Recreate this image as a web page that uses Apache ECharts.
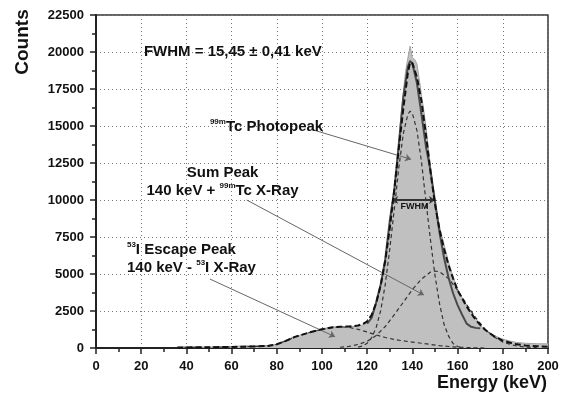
<!DOCTYPE html>
<html>
<head>
<meta charset="utf-8">
<script src="https://cdn.jsdelivr.net/npm/echarts@6/dist/echarts.min.js"></script>
<style>
  html, body { margin: 0; padding: 0; background: #fff; }
  #chart { width: 563px; height: 403px; }
</style>
</head>
<body>
<div id="chart"></div>
<script>
// measured spectrum (grey filled area)
const measEnergy = [36, 40, 45, 50, 55, 60, 64, 68, 72, 76, 80, 82, 84, 86, 88, 90, 92, 94, 96, 98,
  100, 102, 104, 106, 108, 110, 112, 114, 116, 118, 120, 122, 124, 126, 127, 128, 129, 130, 131, 132,
  133, 134, 135, 136, 137, 138, 139, 140, 141, 142, 143, 144, 145, 146, 147, 148, 149, 150, 151, 152,
  154, 156, 158, 160, 162, 164, 166, 168, 170, 172, 174, 176, 178, 180, 183, 186, 190, 195, 200];
const measCounts = [60, 70, 70, 60, 70, 90, 130, 150, 150, 170, 260, 380, 520, 650, 770, 850, 930, 1050, 1130, 1200,
  1280, 1350, 1400, 1430, 1440, 1440, 1450, 1460, 1490, 1560, 1680, 2050, 3100, 4300, 5050, 6000, 7200, 8600, 9700, 10700,
  12100, 13900, 15800, 17300, 18700, 19600, 20400, 19600, 19500, 19200, 18200, 17100, 16100, 14950, 13600, 12300, 11000, 10000, 9000, 8200,
  7000, 5800, 4800, 4000, 3400, 2900, 2450, 2000, 1550, 1250, 1050, 870, 720, 600, 470, 380, 320, 290, 280];

// total fit (thick dashed)
const fitEnergy = [36, 40, 50, 60, 70, 76, 80, 84, 88, 92, 96, 100, 104, 108, 112, 116, 118, 120, 122, 124,
  126, 128, 130, 132, 134, 136, 138, 139, 140, 142, 144, 146, 148, 150, 152, 154, 156, 158, 160, 164,
  168, 172, 176, 180, 185, 190, 195, 200];
const fitCounts = [30, 40, 50, 70, 100, 140, 250, 480, 750, 940, 1120, 1270, 1380, 1440, 1450, 1520, 1620, 1800, 2250, 3050,
  4250, 5900, 8100, 10700, 13500, 16200, 18600, 19300, 19250, 18300, 16700, 14400, 11900, 9700, 8000, 6700, 5600, 4700, 3900, 2800,
  1900, 1250, 800, 500, 280, 170, 120, 90];

// main peak line (solid)
const peakEnergy = [120, 122, 124, 126, 128, 130, 132, 134, 136, 138, 139, 140, 142, 144, 146, 148, 150, 152, 154, 156,
  158, 160, 162, 164, 166, 168, 170];
const peakCounts = [1650, 2050, 3100, 4300, 6000, 8600, 10700, 13800, 17000, 19000, 19400, 19200, 17900, 15800, 13600, 12000, 9900, 7800, 6100, 4750,
  3700, 2900, 2250, 1650, 1430, 1360, 1330];

// fit components (thin dashed)
const photoEnergy = [116, 118, 120, 122, 124, 126, 128, 130, 132, 134, 136, 138, 139, 140, 142, 144, 146, 148, 150, 152,
  154, 156, 158, 160, 162];
const photoCounts = [60, 135, 320, 700, 1400, 2550, 4300, 6700, 9400, 12200, 14500, 15800, 16000, 15850, 14700, 12600, 9900, 7300, 4900, 3000,
  1600, 800, 300, 100, 30];

const sumEnergy = [108, 112, 116, 120, 124, 128, 132, 136, 140, 144, 148, 150, 152, 156, 160, 164, 168, 172, 176, 180,
  185, 190, 195];
const sumCounts = [50, 110, 240, 450, 850, 1450, 2250, 3100, 3950, 4650, 5130, 5200, 5150, 4700, 3900, 2950, 2050, 1300, 760, 400,
  170, 60, 20];

const escEnergy = [36, 40, 50, 60, 70, 76, 80, 84, 88, 92, 96, 100, 104, 108, 112, 116, 120, 124, 128, 132,
  136, 140, 144, 148, 152, 156, 160, 166, 172];
const escCounts = [30, 40, 50, 70, 100, 140, 250, 480, 740, 930, 1100, 1250, 1360, 1430, 1390, 1260, 1080, 880, 710, 580,
  480, 400, 320, 240, 160, 100, 55, 20, 0];

// annotation arrows: [fromE, fromC, toE, toC]
const arrowPhoto = [96.2, 14730, 139.4, 12750];
const arrowSum = [66.7, 10000, 145.1, 3580];
const arrowEsc = [50.4, 4660, 105.8, 760];
const fwhmBar = [131, 150, 10000];

const pairs = (xs, ys) => xs.map((x, i) => [x, ys[i]]);

const FONT = "'Liberation Sans', Arial, sans-serif";
const dashedThin = { color: "#333", width: 1.2, type: [4, 3] };

const arrowItem = a => [
  { coord: [a[0], a[1]], symbol: "none" },
  { coord: [a[2], a[3]], symbol: "arrow", symbolSize: 6 }
];

const chart = echarts.init(document.getElementById("chart"));

const option = {
  animation: false,
  backgroundColor: "#fff",
  grid: {
    left: 96,
    right: 15,
    top: 15,
    bottom: 55,
    show: true,
    borderColor: "#333",
    borderWidth: 1.5
  },
  xAxis: {
    type: "value",
    min: 0,
    max: 200,
    interval: 20,
    axisLine: { lineStyle: { color: "#222", width: 2 } },
    axisTick: { length: 6, lineStyle: { color: "#222", width: 1.5 } },
    minorTick: { show: true, splitNumber: 2, length: 4, lineStyle: { color: "#222", width: 1.5 } },
    axisLabel: { margin: 12, color: "#111", fontSize: 13, fontWeight: "bold", fontFamily: FONT },
    splitLine: { show: true, lineStyle: { color: "#777", type: [1, 3], width: 1 } }
  },
  yAxis: {
    type: "value",
    min: 0,
    max: 22500,
    interval: 2500,
    axisLine: { show: true, lineStyle: { color: "#222", width: 2 } },
    axisTick: { show: true, length: 6, lineStyle: { color: "#222", width: 1.5 } },
    minorTick: { show: true, splitNumber: 2, length: 4, lineStyle: { color: "#222", width: 1.5 } },
    axisLabel: {
      margin: 12,
      color: "#111",
      fontSize: 13,
      fontWeight: "bold",
      fontFamily: FONT,
      formatter: v => String(v)
    },
    splitLine: { show: true, lineStyle: { color: "#777", type: [1, 3], width: 1 } }
  },
  series: [
    {
      name: "measured",
      type: "line",
      data: pairs(measEnergy, measCounts),
      symbol: "none",
      lineStyle: { color: "#a4a4a4", width: 1 },
      areaStyle: { color: "#c0c0c0", opacity: 1 },
      z: 1
    },
    {
      name: "escape",
      type: "line",
      data: pairs(escEnergy, escCounts),
      symbol: "none",
      lineStyle: dashedThin,
      z: 3
    },
    {
      name: "photopeak",
      type: "line",
      data: pairs(photoEnergy, photoCounts),
      symbol: "none",
      lineStyle: dashedThin,
      z: 3
    },
    {
      name: "sum",
      type: "line",
      data: pairs(sumEnergy, sumCounts),
      symbol: "none",
      lineStyle: dashedThin,
      z: 3
    },
    {
      name: "peak",
      type: "line",
      data: pairs(peakEnergy, peakCounts),
      symbol: "none",
      lineStyle: { color: "#4a4a4a", width: 2 },
      z: 4
    },
    {
      name: "fit",
      type: "line",
      data: pairs(fitEnergy, fitCounts),
      symbol: "none",
      lineStyle: { color: "#111", width: 2, type: [6, 3] },
      z: 5,
      markLine: {
        silent: true,
        label: { show: false },
        lineStyle: { color: "#666", width: 1, type: "solid" },
        data: [
          arrowItem(arrowPhoto),
          arrowItem(arrowSum),
          arrowItem(arrowEsc),
          [
            { coord: [fwhmBar[0], fwhmBar[2]], symbol: "arrow", symbolSize: 6, lineStyle: { color: "#333", width: 2 } },
            { coord: [fwhmBar[1], fwhmBar[2]], symbol: "arrow", symbolSize: 6 }
          ]
        ]
      }
    }
  ]
};

chart.setOption(option);

// text notes anchored in data coordinates
const px = (e, c) => chart.convertToPixel({ gridIndex: 0 }, [e, c]);
const rich = {
  sup: { fontSize: 8, fontWeight: "bold", fontFamily: FONT, verticalAlign: "top", lineHeight: 10, fill: "#111" }
};
const note = (pos, text, size, align, extra) => {
  const p = px(pos[0], pos[1]);
  return Object.assign({
    type: "text",
    x: p[0],
    y: p[1],
    style: {
      text: text,
      fill: "#111",
      font: "bold " + size + "px " + FONT,
      align: align,
      verticalAlign: "middle",
      lineHeight: 18,
      rich: rich
    },
    z: 10
  }, extra || {});
};

chart.setOption({
  graphic: [
    note([21.2, 20000], "FWHM = 15,45 ± 0,41 keV", 15, "left"),
    note([50.4, 14950], "{sup|99m}Tc Photopeak", 15, "left"),
    note([56, 11240], "Sum Peak\n140 keV + {sup|99m}Tc X-Ray", 15, "center"),
    note([13.7, 6010], "{sup|53}I Escape Peak\n140 keV - {sup|53}I X-Ray", 15, "left"),
    note([140.9, 9550], "FWHM", 9, "center"),
    {
      type: "text",
      x: 23,
      y: 42,
      rotation: Math.PI / 2,
      style: { text: "Counts", fill: "#111", font: "bold 19px " + FONT, align: "center", verticalAlign: "middle" }
    },
    {
      type: "text",
      x: 547,
      y: 383,
      style: { text: "Energy (keV)", fill: "#111", font: "bold 18px " + FONT, align: "right", verticalAlign: "middle" }
    }
  ]
});
</script>
</body>
</html>
